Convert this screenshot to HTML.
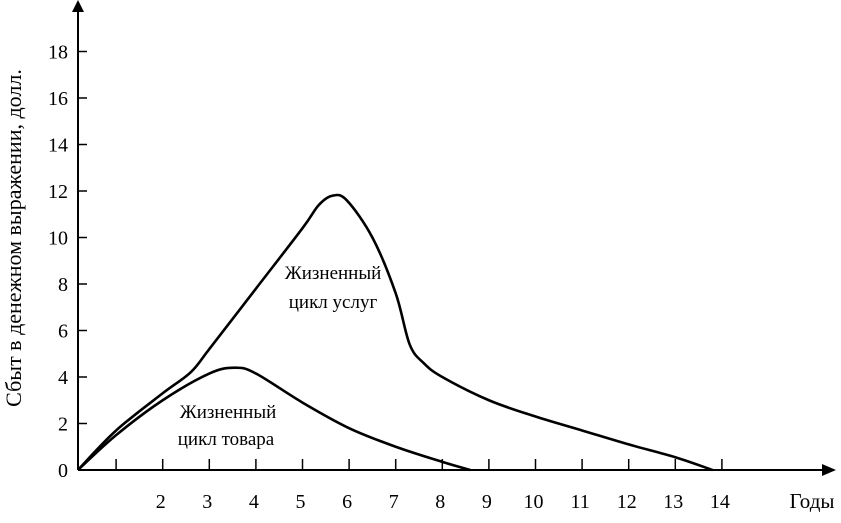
<!DOCTYPE html>
<html><head><meta charset="utf-8"><style>
html,body{margin:0;padding:0;background:#fff}
svg{display:block;font-family:"Liberation Serif",serif}
</style></head><body>
<svg id="chart" width="841" height="523" viewBox="0 0 841 523">
<g id="axes"></g>
<g id="series"></g>
<text x="21" y="238" font-size="22" text-anchor="middle" transform="rotate(-90 21 238)">Сбыт в денежном выражении, долл.</text>
<text x="812" y="508" font-size="21" text-anchor="middle">Годы</text>
<text x="333" y="279" font-size="19" text-anchor="middle">Жизненный</text>
<text x="333" y="308" font-size="19" text-anchor="middle">цикл услуг</text>
<text x="228" y="418" font-size="19" text-anchor="middle">Жизненный</text>
<text x="226" y="445" font-size="19" text-anchor="middle">цикл товара</text>
</svg>
<script>
const xTicks=[1,2,3,4,5,6,7,8,9,10,11,12,13,14];
const xTickLabels=["","2","3","4","5","6","7","8","9","10","11","12","13","14"];
const yTicks=[0,2,4,6,8,10,12,14,16,18];
const serviceT=[0.18,1,2,2.6,3,4,5,5.35,5.65,5.95,6.5,7,7.3,7.6,8,9,10,11,12,13,13.8];
const serviceV=[0,1.7,3.3,4.2,5.2,7.8,10.4,11.4,11.8,11.6,10,7.6,5.4,4.6,4.0,3.0,2.3,1.7,1.1,0.55,0];
const productT=[0.18,1,2,3,3.55,4,5,6,7,8,8.6];
const productV=[0,1.5,3,4.15,4.4,4.15,2.9,1.8,1.0,0.35,0];
const NS="http://www.w3.org/2000/svg";
const X=t=>69.5+46.6*t;
const Y=v=>470-23.25*v;
const axes=document.getElementById('axes');
function mk(tag,attrs,parent){const e=document.createElementNS(NS,tag);for(const k in attrs)e.setAttribute(k,attrs[k]);parent.appendChild(e);return e;}
let l=mk('line',{x1:78,y1:470,x2:826,y2:470,stroke:'#000','stroke-width':2},axes);


let a=mk('path',{d:'M836 470 L822 464 L822 476 Z',fill:'#000'},axes);


l=mk('line',{x1:78,y1:470,x2:78,y2:8,stroke:'#000','stroke-width':2},axes);


a=mk('path',{d:'M78 0 L72 12 L84 12 Z',fill:'#000'},axes);


xTicks.forEach((t,i)=>{
 const tk=mk('line',{x1:X(t),y1:470,x2:X(t),y2:459,stroke:'#000','stroke-width':1.5},axes);
 
 
 const tx=mk('text',{x:X(t)-2,y:508,'font-size':20,'text-anchor':'middle'},axes);
 tx.textContent=xTickLabels[i];
 
 
});
yTicks.forEach(v=>{
 if(v>0){const tk=mk('line',{x1:78,y1:Y(v),x2:87,y2:Y(v),stroke:'#000','stroke-width':1.5},axes);
 
 }
 const tx=mk('text',{x:68,y:Y(v)+7,'font-size':20,'text-anchor':'end'},axes);
 tx.textContent=String(v);
 
 
});
function smooth(ts,vs){
 const p=ts.map((t,i)=>[X(t),Y(vs[i])]);
 let d='M'+p[0][0]+' '+p[0][1];
 for(let i=0;i<p.length-1;i++){
  const p0=p[i-1]||p[i],p1=p[i],p2=p[i+1],p3=p[i+2]||p[i+1];
  const c1=[p1[0]+(p2[0]-p0[0])/6,p1[1]+(p2[1]-p0[1])/6];
  const c2=[p2[0]-(p3[0]-p1[0])/6,p2[1]-(p3[1]-p1[1])/6];
  d+=` C${c1[0]} ${c1[1]} ${c2[0]} ${c2[1]} ${p2[0]} ${p2[1]}`;
 }
 return d;
}
const s=document.getElementById('series');
let ps=mk('path',{d:smooth(serviceT,serviceV),fill:'none',stroke:'#000','stroke-width':2.6},s);


ps=mk('path',{d:smooth(productT,productV),fill:'none',stroke:'#000','stroke-width':2.6},s);


</script>
</body></html>
